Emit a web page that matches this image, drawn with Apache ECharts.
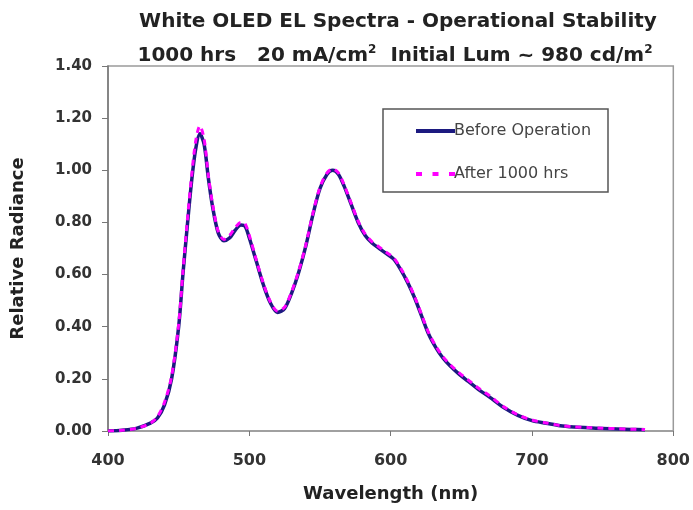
<!DOCTYPE html>
<html>
<head>
<meta charset="utf-8">
<script src="https://cdn.jsdelivr.net/npm/echarts@6/dist/echarts.min.js"></script>
<style>
html,body{margin:0;padding:0;background:#fff;}
#c{width:693px;height:510px;}
</style>
</head>
<body>
<div id="c"></div>
<script>
const wavelengths = [400,410,420,430,435,440,445,450,453,456,459,462,465,468,471,474,478,482,486,490,494,497,500,505,510,515,520,525,530,535,540,545,550,555,559,563,567,572,577,582,587,592,597,602,607,612,617,622,627,632,637,642,648,655,662,670,680,690,700,710,720,730,740,750,760,770,780];
const beforeOp = [0.00,0.003,0.01,0.03,0.05,0.10,0.20,0.40,0.60,0.78,0.95,1.08,1.14,1.10,0.97,0.86,0.76,0.73,0.74,0.77,0.79,0.785,0.74,0.65,0.56,0.49,0.455,0.47,0.53,0.61,0.71,0.83,0.93,0.985,1.00,0.985,0.94,0.87,0.80,0.75,0.72,0.70,0.68,0.66,0.62,0.57,0.51,0.44,0.37,0.32,0.28,0.25,0.22,0.19,0.16,0.13,0.09,0.06,0.04,0.03,0.02,0.015,0.012,0.01,0.008,0.006,0.005];
const after1000 = [0.00,0.003,0.01,0.03,0.055,0.11,0.21,0.41,0.61,0.80,0.97,1.11,1.17,1.12,0.98,0.87,0.765,0.735,0.75,0.78,0.80,0.795,0.75,0.655,0.565,0.495,0.46,0.475,0.535,0.615,0.715,0.835,0.935,0.99,1.005,0.99,0.945,0.875,0.805,0.755,0.725,0.705,0.685,0.665,0.625,0.575,0.515,0.445,0.375,0.325,0.285,0.255,0.225,0.195,0.165,0.135,0.093,0.062,0.042,0.031,0.021,0.016,0.013,0.011,0.009,0.007,0.006];
const seriesNames = ['Before Operation','After 1000 hrs'];
const xTicks = [400,500,600,700,800];
const yTicks = [0,0.2,0.4,0.6,0.8,1.0,1.2,1.4];

const FONT = '"DejaVu Sans", Verdana, sans-serif';
const chart = echarts.init(document.getElementById('c'));
const pair = (xs, ys) => xs.map((x,i)=>[x, ys[i]]);
chart.setOption({
  backgroundColor:'#ffffff',
  animation:false,
  title:[
    {text:'White OLED EL Spectra - Operational Stability', left:393, top:7, textAlign:'center',
     textStyle:{fontFamily:FONT,fontWeight:'bold',fontSize:20,color:'#222'}},
    {text:'1000 hrs   20 mA/cm{sup|2}  Initial Lum ~ 980 cd/m{sup|2}', left:390, top:39, textAlign:'center',
     textStyle:{fontFamily:FONT,fontWeight:'bold',fontSize:20,color:'#222',
       rich:{sup:{fontFamily:FONT,fontWeight:'bold',fontSize:12,color:'#222',verticalAlign:'top',padding:[0,0,11,0]}}}}
  ],
  grid:{left:108,right:19,top:66,bottom:79,show:true,borderColor:'#9a9a9a',borderWidth:1.5},
  legend:{
    orient:'vertical', left:411, top:118, itemWidth:39, itemHeight:14, itemGap:27,
    data:[{name:seriesNames[0],icon:'path://M0,0 L39,0 L39,4 L0,4 Z'},
          {name:seriesNames[1],icon:'path://M0,0 L6,0 L6,4 L0,4 Z M16.5,0 L22.5,0 L22.5,4 L16.5,4 Z M33,0 L39,0 L39,4 L33,4 Z'}],
    textStyle:{fontFamily:FONT,fontSize:16,color:'#444',padding:[0,0,0,-6]}
  },
  graphic:[{type:'rect',shape:{x:383,y:109,width:225,height:83},style:{fill:'none',stroke:'#555',lineWidth:1.5},z:5}],
  xAxis:{
    type:'value', min:400, max:800, interval:100,
    name:'Wavelength (nm)', nameLocation:'middle', nameGap:54,
    nameTextStyle:{fontFamily:FONT,fontWeight:'bold',fontSize:18,color:'#222'},
    axisLine:{lineStyle:{color:'#9a9a9a',width:1.5}},
    axisTick:{show:true,length:5,lineStyle:{color:'#777'}},
    axisLabel:{fontFamily:FONT,fontWeight:'bold',fontSize:16,color:'#333',margin:22,
      formatter:v=>xTicks.includes(v)?String(v):''},
    splitLine:{show:false}
  },
  yAxis:{
    type:'value', min:0, max:1.4, interval:0.2,
    name:'Relative Radiance', nameLocation:'middle', nameGap:81,
    nameTextStyle:{fontFamily:FONT,fontWeight:'bold',fontSize:18,color:'#222'},
    axisLine:{show:true,lineStyle:{color:'#777',width:1.5}},
    axisTick:{show:true,length:6,lineStyle:{color:'#777'}},
    axisLabel:{fontFamily:FONT,fontWeight:'bold',fontSize:15,color:'#333',margin:16,
      formatter:v=>yTicks.find(t=>Math.abs(t-v)<1e-9)!==undefined?v.toFixed(2):''},
    splitLine:{show:false}
  },
  series:[
    {name:seriesNames[0],type:'line',data:pair(wavelengths,beforeOp),smooth:0.3,symbol:'none',showSymbol:false,
     lineStyle:{color:'#1c1a80',width:3.5},itemStyle:{color:'#1c1a80'},z:2},
    {name:seriesNames[1],type:'line',data:pair(wavelengths,after1000),smooth:0.3,symbol:'none',showSymbol:false,
     lineStyle:{color:'#ff00ff',width:3,type:[6,5]},itemStyle:{color:'#ff00ff'},z:3}
  ]
});
</script>
</body>
</html>
